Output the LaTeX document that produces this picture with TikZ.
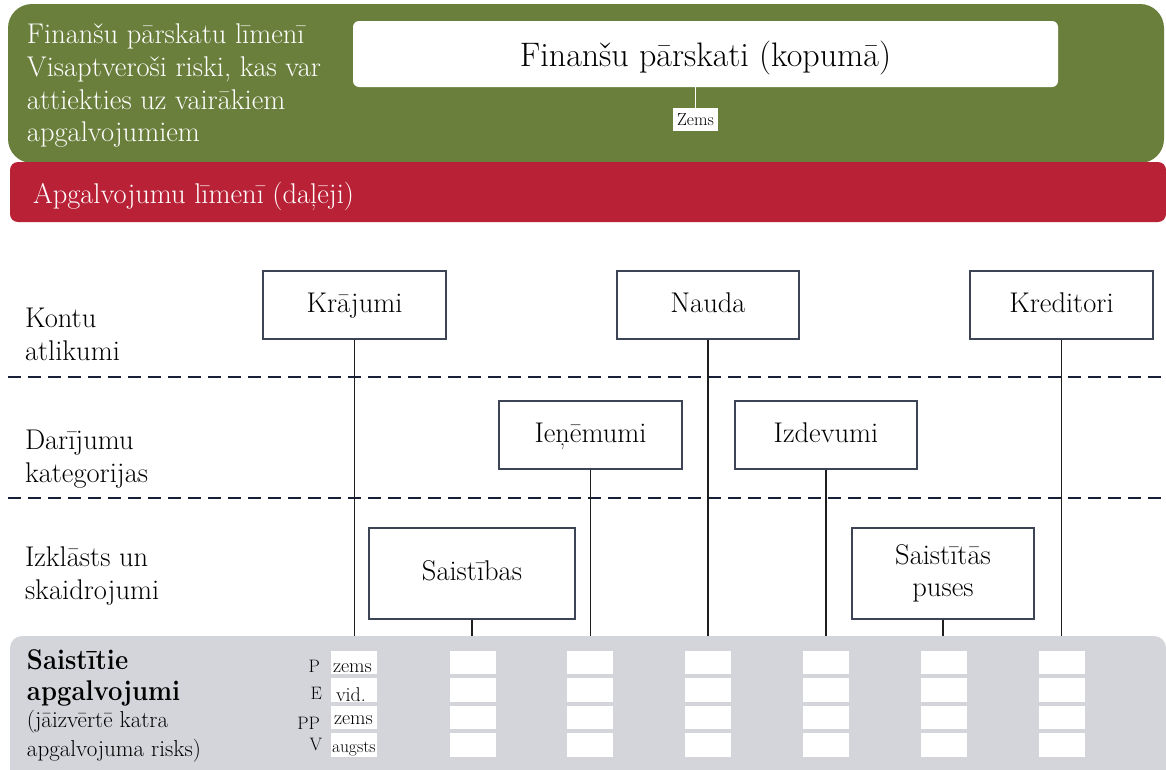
\documentclass[tikz,border=0pt]{standalone}
\usepackage{fontspec}
\setmainfont{Latin Modern Roman}[BoldFeatures={FakeStretch=0.9}]
\definecolor{bandgreen}{RGB}{106,127,60}
\definecolor{bandred}{RGB}{185,33,54}
\definecolor{bandgray}{RGB}{212,213,219}
\definecolor{dashnavy}{RGB}{24,32,56}
\definecolor{boxline}{RGB}{60,68,85}
\definecolor{stemcol}{RGB}{30,30,30}
\tikzset{
  bodyfont/.style={font=\fontsize{28.5}{32.7}\selectfont},
  plain/.style={inner sep=0pt, outer sep=0pt, anchor=base west},
  catbox/.style={draw=boxline, line width=1.3pt, fill=white, inner sep=0pt,
    text height=20pt, text depth=6pt, bodyfont},
  stem/.style={draw=stemcol, line width=1.2pt},
  divider/.style={draw=dashnavy, line width=2.4pt, dash pattern=on 13pt off 7pt},
  cell/.style={fill=white, inner sep=0pt, minimum width=46pt, minimum height=23.5pt},
  cellword/.style={plain, font=\fontsize{20}{24}\selectfont},
  rowtag/.style={inner sep=0pt, outer sep=0pt, anchor=base east, font=\fontsize{18}{20}\selectfont},
}
\begin{document}
\begin{tikzpicture}[x=1pt,y=-1pt]
\useasboundingbox (0,0) rectangle (1166,769);

% coloured bands
\fill[bandgreen, rounded corners=24pt] (8,4) rectangle (1164,163);
\fill[bandred, rounded corners=8pt] (10,162) rectangle (1166,222);
\fill[bandgray, rounded corners=12pt] (10,636) rectangle (1166,800);

% financial statement level
\node[plain, bodyfont, text=white] (g1) at (27,43) {Finanšu pārskatu līmenī};
\node[plain, bodyfont, text=white] (g2) at (27,76) {Visaptveroši riski, kas var};
\node[plain, bodyfont, text=white] (g3) at (27,109) {attiekties uz vairākiem};
\node[plain, bodyfont, text=white] (g4) at (27,141) {apgalvojumiem};

\node[fill=white, rounded corners=6pt, inner sep=0pt, minimum width=705pt, minimum height=66pt,
      text height=30pt, text depth=6pt, font=\fontsize{34}{40}\selectfont]
  (fs) at (705.5,54) {Finanšu pārskati (kopumā)};
\node[fill=white, inner sep=0pt, minimum width=45pt, minimum height=23pt,
      text height=12pt, text depth=1pt, font=\fontsize{17.5}{20}\selectfont]
  (zems) at (695.5,119.5) {Zems};
\draw[white, line width=1pt] (fs.south -| zems) -- (zems.north);

% assertion level band
\node[plain, bodyfont, text=white] (red) at (33,203) {Apgalvojumu līmenī (daļēji)};

% level dividers
\draw[divider] (8,377) -- (1166,377);
\draw[divider] (8,498) -- (1166,498);

% row captions
\node[plain, bodyfont] (k1) at (25,327) {Kontu};
\node[plain, bodyfont] (k2) at (25,360) {atlikumi};
\node[plain, bodyfont] (d1) at (25,449) {Darījumu};
\node[plain, bodyfont] (d2) at (25,482) {kategorijas};
\node[plain, bodyfont] (i1) at (25,566) {Izklāsts un};
\node[plain, bodyfont] (i2) at (25,599) {skaidrojumi};

% account balances
\node[catbox, minimum width=183pt, minimum height=68pt] (kraj) at (354.5,305) {Krājumi};
\node[catbox, minimum width=182pt, minimum height=68pt] (nauda) at (708,305) {Nauda};
\node[catbox, minimum width=183pt, minimum height=68pt] (kred) at (1061.5,305) {Kreditori};
% transaction classes
\node[catbox, minimum width=183pt, minimum height=68pt] (ien) at (590.5,435) {Ieņēmumi};
\node[catbox, minimum width=182pt, minimum height=68pt] (izd) at (826,435) {Izdevumi};
% disclosures
\node[catbox, minimum width=206pt, minimum height=91pt] (sais) at (472,573.5) {Saistības};
\node[draw=boxline, line width=1.3pt, fill=white, inner sep=0pt, minimum width=182pt,
      minimum height=91pt, align=center, font=\fontsize{28.5}{32}\selectfont]
  (puses) at (943,573.5) {Saistītās\\puses};

% stems down to the assertion band
\foreach \n in {kraj,nauda,kred,ien,izd,sais,puses}{
  \coordinate (\n-end) at (\n.center |- 0,636);
  \draw[stem] (\n.south) -- (\n-end);
}

% related assertions
\node[plain, font=\bfseries\fontsize{28.5}{30}\selectfont] (sa1) at (27,669) {Saistītie};
\node[plain, font=\bfseries\fontsize{28.5}{30}\selectfont] (sa2) at (27,700) {apgalvojumi};
\node[plain, font=\fontsize{23}{28}\selectfont] (sa3) at (27,727) {(jāizvērtē katra};
\node[plain, font=\fontsize{23}{28}\selectfont] (sa4) at (27,756) {apgalvojuma risks)};

\foreach \c/\x in {1/354,2/473,3/590,4/708,5/826,6/944,7/1062}{
  \foreach \r/\y in {1/662.5,2/690,3/717.5,4/745}{
    \node[cell] (cell-\c-\r) at (\x,\y) {};
  }
}

\node[rowtag] (tp) at (320,672) {P};
\node[rowtag] (te) at (322,699) {E};
\node[rowtag] (tpp) at (320,729) {PP};
\node[rowtag] (tv) at (322,750) {V};

\node[cellword] (w1) at (333,672) {zems};
\node[cellword] (w2) at (336,701) {vid.};
\node[cellword] (w3) at (334,724) {zems};
\node[plain, font=\fontsize{17.5}{22}\selectfont] (w4) at (332,752) {augsts};
\end{tikzpicture}
\end{document}
